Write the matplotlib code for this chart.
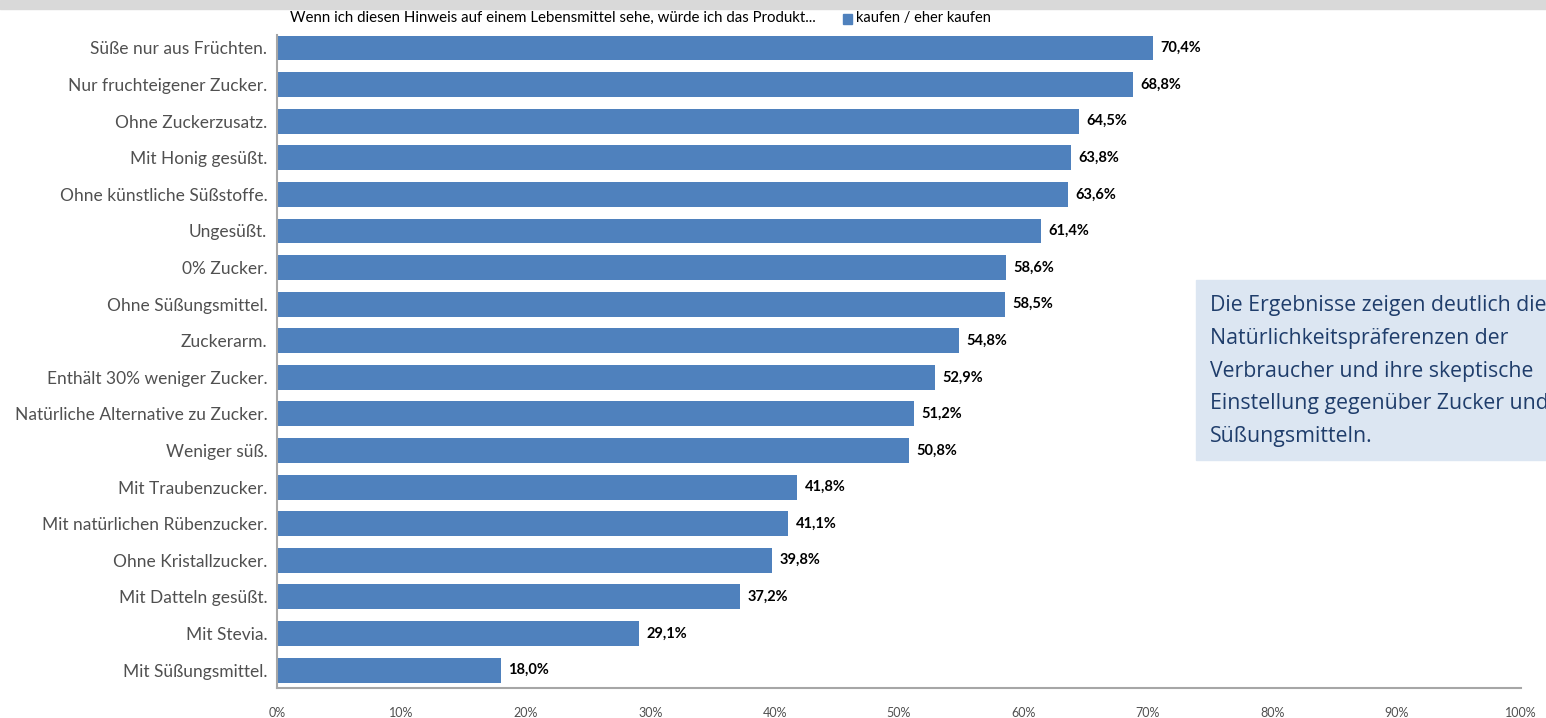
import numpy as np
import matplotlib.pyplot as plt
from matplotlib.patches import Rectangle

labels = ['Süße nur aus Früchten.', 'Nur fruchteigener Zucker.', 'Ohne Zuckerzusatz.',
          'Mit Honig gesüßt.', 'Ohne künstliche Süßstoffe.', 'Ungesüßt.', '0% Zucker.',
          'Ohne Süßungsmittel.', 'Zuckerarm.', 'Enthält 30% weniger Zucker.',
          'Natürliche Alternative zu Zucker.', 'Weniger süß.', 'Mit Traubenzucker.',
          'Mit natürlichen Rübenzucker.', 'Ohne Kristallzucker.', 'Mit Datteln gesüßt.',
          'Mit Stevia.', 'Mit Süßungsmittel.']
values = [70.4, 68.8, 64.5, 63.8, 63.6, 61.4, 58.6, 58.5, 54.8, 52.9,
          51.2, 50.8, 41.8, 41.1, 39.8, 37.2, 29.1, 18.0]
ticks = np.arange(0, 101, 10)

title = 'Wenn ich diesen Hinweis auf einem Lebensmittel sehe, würde ich das Produkt...'
series_name = 'kaufen / eher kaufen'
note = ('Die Ergebnisse zeigen deutlich die\nNatürlichkeitspräferenzen der\n'
        'Verbraucher und ihre skeptische\nEinstellung gegenüber Zucker und\nSüßungsmitteln.')

plt.rcParams['font.family'] = ['Lato', 'DejaVu Sans']
bar_color = '#4f81bd'
grey = '#505050'

fig = plt.figure(figsize=(15.46, 7.18), dpi=100)
# grey band along the top edge
fig.patches.append(Rectangle((0, 0.988), 1, 0.012, transform=fig.transFigure,
                             color='#d9d9d9', zorder=0))

ax = fig.add_axes([277 / 1546, 1 - 688 / 718, (1521 - 277) / 1546, (688 - 35) / 718])
y = np.arange(len(labels))
ax.barh(y, values, height=0.68, color=bar_color, zorder=2)
ax.set_ylim(17.49, -0.355)
ax.set_xlim(0, 100)

for yi, v in zip(y, values):
    ax.text(v + 0.6, yi, ('%.1f%%' % v).replace('.', ','), va='center', ha='left',
            fontsize=10.5, fontweight='bold', color='black')

ax.set_yticks(y)
ax.set_yticklabels(labels, fontsize=12.5, color=grey)
ax.set_xticks(ticks)
ax.set_xticklabels(['%d%%' % t for t in ticks], fontsize=9, color=grey)
ax.tick_params(axis='y', length=0, pad=7)
ax.tick_params(axis='x', length=0, pad=14)
for s in ['top', 'right']:
    ax.spines[s].set_visible(False)
for s in ['left', 'bottom']:
    ax.spines[s].set_color('#a6a6a6')
    ax.spines[s].set_linewidth(1.5)

fig.text(290 / 1546, 1 - 18 / 718, title, fontsize=10.8, va='center', ha='left', color='black')
fig.patches.append(Rectangle((843 / 1546, 1 - 24 / 718), 9 / 1546, 10 / 718,
                             transform=fig.transFigure, color=bar_color))
fig.text(856 / 1546, 1 - 18 / 718, series_name, fontsize=10.5, va='center', ha='left', color='black')

# note box on the right, running off the figure edge
fig.patches.append(Rectangle((1196 / 1546, 1 - 460 / 718), 360 / 1546, 180 / 718,
                             transform=fig.transFigure, color='#dce6f2', zorder=1))
fig.text(1210 / 1546, 1 - 371 / 718, note, fontsize=15.3, va='center', ha='left',
         color='#1f3d6b', linespacing=1.74, family='Open Sans', zorder=2)

fig.savefig('out.png', dpi=100)
